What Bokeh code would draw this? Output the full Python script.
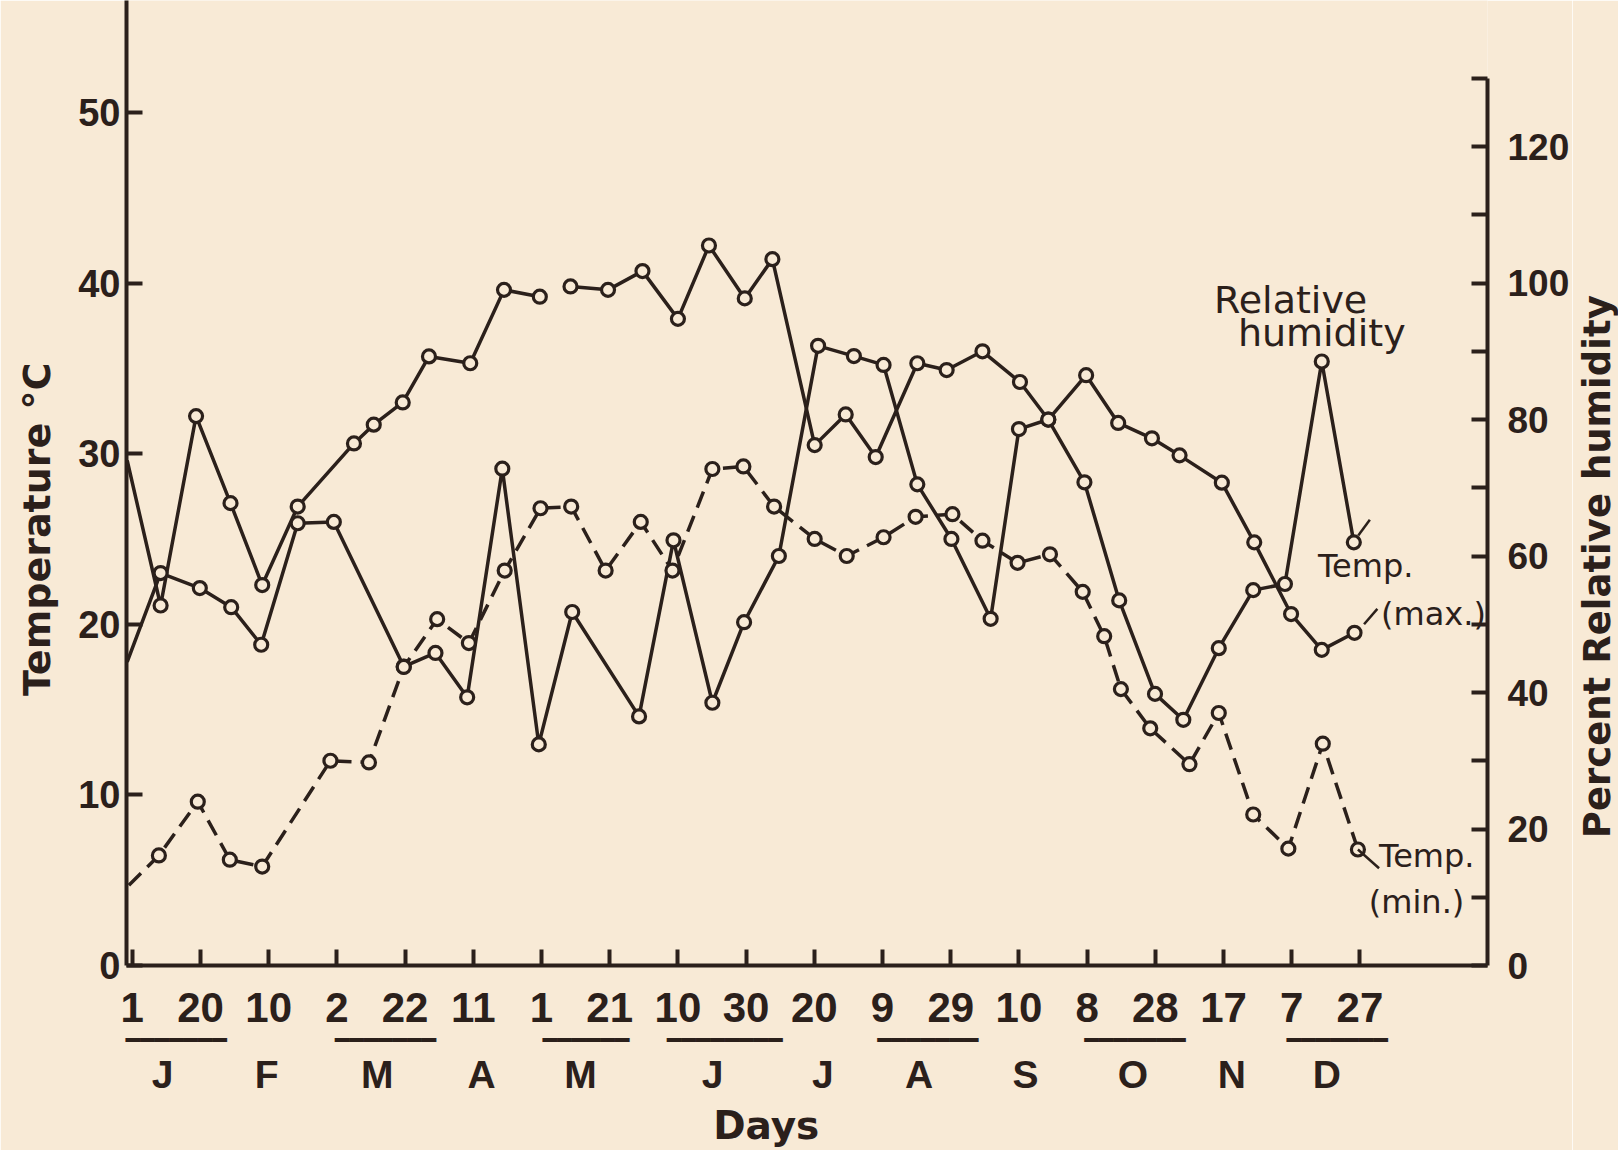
from bokeh.plotting import figure
from bokeh.layouts import row
from bokeh.models import Range1d, LinearAxis, FixedTicker, Label
from bokeh.embed import file_html
from bokeh.resources import INLINE

NAN = float("nan")

# ---------------- data (x = day of year) ----------------
max_day = [-0.5, 9.3, 19.7, 29.8, 39.1, 49.5, 66.0, 71.8, 80.3, 88.0, 100.1, 110.0, 120.5, NAN,
           129.5, 140.5, 150.6, 161.0, 170.1, 180.6, 188.7, 201.1, 210.2, 219.0, 231.2, 239.8,
           250.3, 261.3, 269.6, 280.7, 290.1, 300.0, 308.1, 320.5, 330.0, 340.8, 349.8, 359.4]
max_temp = [29.6, 21.1, 32.2, 27.1, 22.3, 26.9, 30.6, 31.7, 33.0, 35.7, 35.3, 39.6, 39.2, NAN,
            39.8, 39.6, 40.7, 37.9, 42.2, 39.1, 41.4, 30.5, 32.3, 29.8, 35.3, 34.9,
            36.0, 34.2, 32.0, 34.6, 31.8, 30.9, 29.9, 28.3, 24.8, 20.6, 18.5, 19.5]

min_day = [0.0, 8.8, 20.2, 29.6, 39.1, 59.1, 70.4, 80.6, 90.4, 99.7, 110.2, 120.7, 129.7, 139.8,
           150.1, 159.4, 171.1, 180.2, 189.2, 201.1, 210.5, 221.3, 230.7, 241.5, 250.3, 260.6,
           270.1, 279.7, 286.0, 290.9, 299.5, 311.0, 319.6, 329.7, 340.0, 350.1, 360.4]
min_temp = [4.7, 6.45, 9.6, 6.2, 5.8, 12.0, 11.9, 17.5, 20.3, 18.9, 23.15, 26.8, 26.9, 23.15,
            26.0, 23.15, 29.1, 29.25, 26.9, 25.0, 24.0, 25.1, 26.3, 26.45, 24.9, 23.6,
            24.1, 21.9, 19.3, 16.2, 13.9, 11.8, 14.8, 8.85, 6.85, 13.0, 6.8]

rh_day = [-0.5, 9.3, 20.8, 30.0, 38.8, 49.5, 60.1, 80.6, 89.9, 99.2, 109.5, 120.2, 130.0, 149.6,
          159.7, 171.1, 180.4, 190.6, 202.1, 212.6, 221.3, 231.2, 241.2, 252.7, 261.0, 269.6,
          280.2, 290.4, 300.9, 309.2, 319.6, 329.7, 339.0, 349.8, 359.2]
rh_pct = [44.5, 57.5, 55.3, 52.5, 47.0, 64.8, 65.0, 43.8, 45.8, 39.3, 72.8, 32.4, 51.8, 36.5,
          62.3, 38.5, 50.3, 60.0, 90.8, 89.3, 88.0, 70.5, 62.5, 50.8, 78.6, 80.0,
          70.8, 53.5, 39.8, 36.0, 46.5, 55.0, 55.9, 88.5, 62.0]

# ---------------- axes / ticks ----------------
temp_ticks = [0, 10, 20, 30, 40, 50]
rh_ticks = [0, 20, 40, 60, 80, 100, 120]
rh_minor = [10, 30, 50, 70, 90, 110, 130]
day_ticks = [1, 21, 41, 61, 81, 101, 121, 141, 161, 181, 201, 221, 241, 261, 281, 301, 321, 341, 361]
day_labels = ["1", "20", "10", "2", "22", "11", "1", "21", "10", "30", "20", "9", "29", "10",
              "8", "28", "17", "7", "27"]
month_pos = [9.9, 40.4, 72.8, 103.4, 132.4, 171.2, 203.5, 231.7, 262.9, 294.4, 323.4, 351.3]
month_labels = ["J", "F", "M", "A", "M", "J", "J", "A", "S", "O", "N", "D"]
underline_start = [-0.7, 60.0, 120.4, 158.5, 219.6, 280.2, 339.8]
underline_end = [28.4, 90.4, 147.6, 190.9, 248.9, 309.8, 368.8]

BG = "#F8EAD6"
INK = "#2B201B"
NBSP = "\u00a0"
X_START, X_END = -0.7, 398.4
T_END = 56.56
RH_FACTOR = 2.5
MAIN_W, SIDE_W, H = 1572, 46, 1150
BORDER_L, BORDER_R, BORDER_B = 126, 85, 185

p = figure(width=MAIN_W, height=H, output_backend="svg", toolbar_location=None,
           x_range=Range1d(X_START, X_END), y_range=Range1d(0, T_END),
           min_border_left=BORDER_L, min_border_right=BORDER_R, min_border_top=0,
           min_border_bottom=BORDER_B,
           background_fill_color=BG, border_fill_color=BG, outline_line_color=None)
p.grid.visible = False
p.extra_y_ranges = {"rh": Range1d(0, T_END * RH_FACTOR)}


def style_axis(ax, size, font="Liberation Sans"):
    ax.axis_line_color = INK
    ax.axis_line_width = 4
    ax.major_tick_line_color = INK
    ax.major_tick_line_width = 4
    ax.minor_tick_line_color = None
    ax.major_tick_out = 0
    ax.major_tick_in = 16
    ax.minor_tick_out = 0
    ax.minor_tick_in = 0
    ax.major_label_text_font = font
    ax.major_label_text_font_style = "bold"
    ax.major_label_text_font_size = size
    ax.major_label_text_color = INK


def bare_axis(ax):
    ax.axis_line_color = None
    ax.major_tick_line_color = None
    ax.minor_tick_line_color = None
    ax.major_tick_out = 0
    ax.minor_tick_out = 0
    ax.major_tick_in = 0
    ax.minor_tick_in = 0


def style_title(ax, text, standoff, size="38px"):
    ax.axis_label = text
    ax.axis_label_text_font = "DejaVu Sans"
    ax.axis_label_text_font_style = "bold"
    ax.axis_label_text_font_size = size
    ax.axis_label_text_color = INK
    ax.axis_label_standoff = standoff


# left: temperature
ya = p.yaxis[0]
style_axis(ya, "38px")
ya.ticker = FixedTicker(ticks=temp_ticks)
ya.major_label_standoff = 6
style_title(ya, "Temperature \u00b0C" + NBSP * 7, 16)

# right: relative humidity scale
ra = LinearAxis(y_range_name="rh", bounds=(0, 130),
                ticker=FixedTicker(ticks=rh_ticks, minor_ticks=rh_minor))
style_axis(ra, "37px")
ra.minor_tick_line_color = INK
ra.minor_tick_line_width = 4
ra.minor_tick_in = 16
ra.major_label_standoff = 20
p.add_layout(ra, "right")

# bottom: day ticks
xa = p.xaxis[0]
style_axis(xa, "42px")
xa.ticker = FixedTicker(ticks=day_ticks)
xa.major_label_overrides = {t: l for t, l in zip(day_ticks, day_labels)}
xa.major_label_standoff = 27

# underline bars grouping the two day ticks of one month
BAR_PX = 0.602 * 24
ul_pos = [(s + e) / 2 for s, e in zip(underline_start, underline_end)]
px_per_day = (MAIN_W - BORDER_L - BORDER_R) / (X_END - X_START)
ul_text = ["\u2501" * max(1, round((e - s) * px_per_day / BAR_PX))
           for s, e in zip(underline_start, underline_end)]
ua = LinearAxis(ticker=FixedTicker(ticks=ul_pos))
ua.major_label_overrides = {t: l for t, l in zip(ul_pos, ul_text)}
bare_axis(ua)
ua.major_label_standoff = 1
ua.major_label_text_font = "DejaVu Sans"
ua.major_label_text_font_size = "24px"
ua.major_label_text_color = INK
p.add_layout(ua, "below")

# month letters + "Days"
ma = LinearAxis(ticker=FixedTicker(ticks=month_pos))
ma.major_label_overrides = {t: l for t, l in zip(month_pos, month_labels)}
bare_axis(ma)
ma.major_label_standoff = -4
ma.major_label_text_font = "Liberation Sans"
ma.major_label_text_font_style = "bold"
ma.major_label_text_font_size = "39px"
ma.major_label_text_color = INK
style_title(ma, "Days" + NBSP * 6, 4, "39px")
p.add_layout(ma, "below")

# ---------------- series ----------------
LW = 3.5
p.line(max_day, max_temp, line_width=LW, line_color=INK)
p.line(rh_day, rh_pct, y_range_name="rh", line_width=LW, line_color=INK)
p.line(min_day, min_temp, line_width=LW, line_color=INK, line_dash="17 9")

mk = dict(marker="circle", size=13, fill_color=BG, line_color=INK, line_width=3.2)
p.scatter(max_day[1:], max_temp[1:], **mk)
p.scatter(rh_day[1:], rh_pct[1:], y_range_name="rh", **mk)
p.scatter(min_day[1:], min_temp[1:], **mk)

# leaders from series ends to their labels
p.segment(x0=[max_day[-1] + 2.8, min_day[-1]], y0=[max_temp[-1] + 0.5, min_temp[-1]],
          x1=[max_day[-1] + 6.7, min_day[-1] + 6.2], y1=[max_temp[-1] + 1.4, min_temp[-1] - 1.1],
          line_width=2.5, line_color=INK)
p.segment(x0=[rh_day[-1] + 1.3], y0=[rh_pct[-1] + 1.0], x1=[rh_day[-1] + 4.7], y1=[rh_pct[-1] + 3.3],
          y_range_name="rh", line_width=2.5, line_color=INK)

# in-plot annotations
ann = dict(text_font="DejaVu Sans", text_color=INK, text_align="left", text_baseline="alphabetic")
p.add_layout(Label(x=318.2, y=39.0, text="Relative", text_font_size="38px", **ann))
p.add_layout(Label(x=325.2, y=37.1, text="humidity", text_font_size="38px", **ann))
p.add_layout(Label(x=348.7, y=23.4, text="Temp.", text_font_size="32px", **ann))
p.add_layout(Label(x=367.2, y=20.6, text="(max.)", text_font_size="32px", **ann))
p.add_layout(Label(x=366.6, y=6.4, text="Temp.", text_font_size="32px", **ann))
p.add_layout(Label(x=363.6, y=3.7, text="(min.)", text_font_size="32px", **ann))

# ---------------- side strip carrying the right-hand axis title ----------------
p2 = figure(width=SIDE_W, height=H, output_backend="svg", toolbar_location=None,
            x_range=Range1d(0, 1), y_range=Range1d(0, 1), x_axis_location=None,
            min_border_left=44, min_border_right=0, min_border_top=0,
            min_border_bottom=BORDER_B,
            background_fill_color=BG, border_fill_color=BG, outline_line_color=None)
p2.grid.visible = False
ax2 = p2.yaxis[0]
ax2.ticker = FixedTicker(ticks=[])
bare_axis(ax2)
ax2.major_label_standoff = 0
style_title(ax2, "Percent Relative humidity" + NBSP * 13, 0, "37px")

layout = row(p, p2, spacing=0)
open("out.html", "w").write(file_html(layout, INLINE))
